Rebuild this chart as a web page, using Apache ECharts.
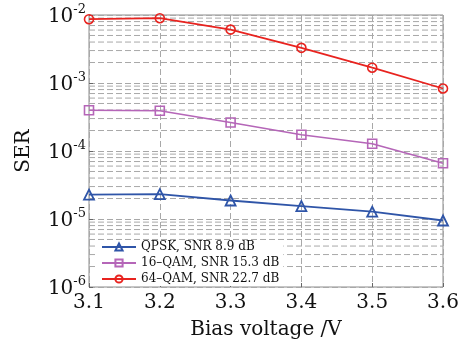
<!DOCTYPE html>
<html>
<head>
<meta charset="utf-8">
<script src="https://cdn.jsdelivr.net/npm/echarts@6/dist/echarts.min.js"></script>
<style>
  html, body { margin: 0; padding: 0; background: #fff; }
  #chart { width: 474px; height: 345px; }
</style>
</head>
<body>
<div id="chart"></div>
<script>
const voltages = [3.1, 3.2, 3.3, 3.4, 3.5, 3.6]
const qpsk = [2.28e-5, 2.32e-5, 1.87e-5, 1.55e-5, 1.28e-5, 9.5e-6]
const qam16 = [3.97e-4, 3.9e-4, 2.62e-4, 1.73e-4, 1.28e-4, 6.6e-5]
const qam64 = [8.67e-3, 8.97e-3, 6.1e-3, 3.29e-3, 1.68e-3, 8.3e-4]
const seriesNames = ['QPSK, SNR 8.9 dB', '16\u2013QAM, SNR 15.3 dB', '64\u2013QAM, SNR 22.7 dB']
const decades = [-6, -5, -4, -3, -2]

// minor gridlines 2..9 x 10^k
let minorLines = []
decades.slice(0, 4).forEach(k => {
  for (let m = 2; m <= 9; m++) minorLines.push(m * Math.pow(10, k))
})

const serif = 'DejaVu Serif'
const colors = ['#2f55a8', '#b566b8', '#e8231f']
const gridDash = { color: '#a8a8a8', type: [6, 3], width: 1 }

function pairs(ys) {
  return voltages.map((v, i) => [v, ys[i]])
}

// one flat dashed series per minor gridline, drawn under the data
let gridSeries = minorLines.map(v => ({
  type: 'line', name: 'minor', silent: true, z: 1,
  data: [[voltages[0], v], [voltages[voltages.length - 1], v]],
  symbol: 'none',
  lineStyle: gridDash,
  emphasis: { disabled: true }
}))

let chart = echarts.init(document.getElementById('chart'))
chart.setOption({
  animation: false,
  textStyle: { fontFamily: serif },
  grid: {
    left: 89, right: 31, top: 15, bottom: 51,
    show: true, borderColor: '#8c8c8c', borderWidth: 1
  },
  legend: {
    data: seriesNames,
    orient: 'vertical',
    left: 97, top: 240,
    itemWidth: 34, itemHeight: 9,
    itemGap: 4,
    padding: [1, 4, 1, 4],
    backgroundColor: '#fff',
    textStyle: { fontFamily: serif, fontSize: 12, color: '#111' }
  },
  xAxis: {
    type: 'value',
    min: 3.1, max: 3.6, interval: 0.1,
    name: 'Bias voltage /V',
    nameLocation: 'middle',
    nameGap: 33,
    nameTextStyle: { fontFamily: serif, fontSize: 20, color: '#111' },
    axisLine: { show: false },
    axisTick: { show: true, inside: true, length: 4, lineStyle: { color: '#666' } },
    axisLabel: {
      fontFamily: serif, fontSize: 20, color: '#111', margin: 6,
      formatter: v => v.toFixed(1)
    },
    splitLine: { show: true, lineStyle: gridDash }
  },
  yAxis: {
    type: 'log',
    logBase: 10,
    min: 1e-6, max: 1e-2,
    name: 'SER',
    nameLocation: 'middle',
    nameGap: 55,
    nameTextStyle: { fontFamily: serif, fontSize: 20, color: '#111' },
    axisLine: { show: false },
    axisTick: { show: true, inside: true, length: 4, lineStyle: { color: '#666' } },
    axisLabel: {
      margin: 3,
      formatter: v => '{b|10}{s|' + Math.round(Math.log10(v)) + '}',
      rich: {
        b: { fontFamily: serif, fontSize: 20, color: '#111', lineHeight: 24, verticalAlign: 'bottom' },
        s: { fontFamily: serif, fontSize: 13, color: '#111', lineHeight: 24, verticalAlign: 'top', padding: [0, 0, 10, 0] }
      }
    },
    splitLine: { show: true, lineStyle: gridDash }
  },
  series: gridSeries.concat([
    {
      type: 'line', name: seriesNames[0], data: pairs(qpsk), z: 3,
      symbol: 'triangle', symbolSize: 10,
      lineStyle: { color: colors[0], width: 1.8 },
      itemStyle: { color: 'rgba(255,255,255,0)', borderColor: colors[0], borderWidth: 1.8 }
    },
    {
      type: 'line', name: seriesNames[1], data: pairs(qam16), z: 3,
      symbol: 'rect', symbolSize: 9,
      lineStyle: { color: colors[1], width: 1.6 },
      itemStyle: { color: 'rgba(255,255,255,0)', borderColor: colors[1], borderWidth: 1.6 }
    },
    {
      type: 'line', name: seriesNames[2], data: pairs(qam64), z: 3,
      symbol: 'circle', symbolSize: 9,
      lineStyle: { color: colors[2], width: 1.8 },
      itemStyle: { color: 'rgba(255,255,255,0)', borderColor: colors[2], borderWidth: 1.6 }
    }
  ])
})
</script>
</body>
</html>
